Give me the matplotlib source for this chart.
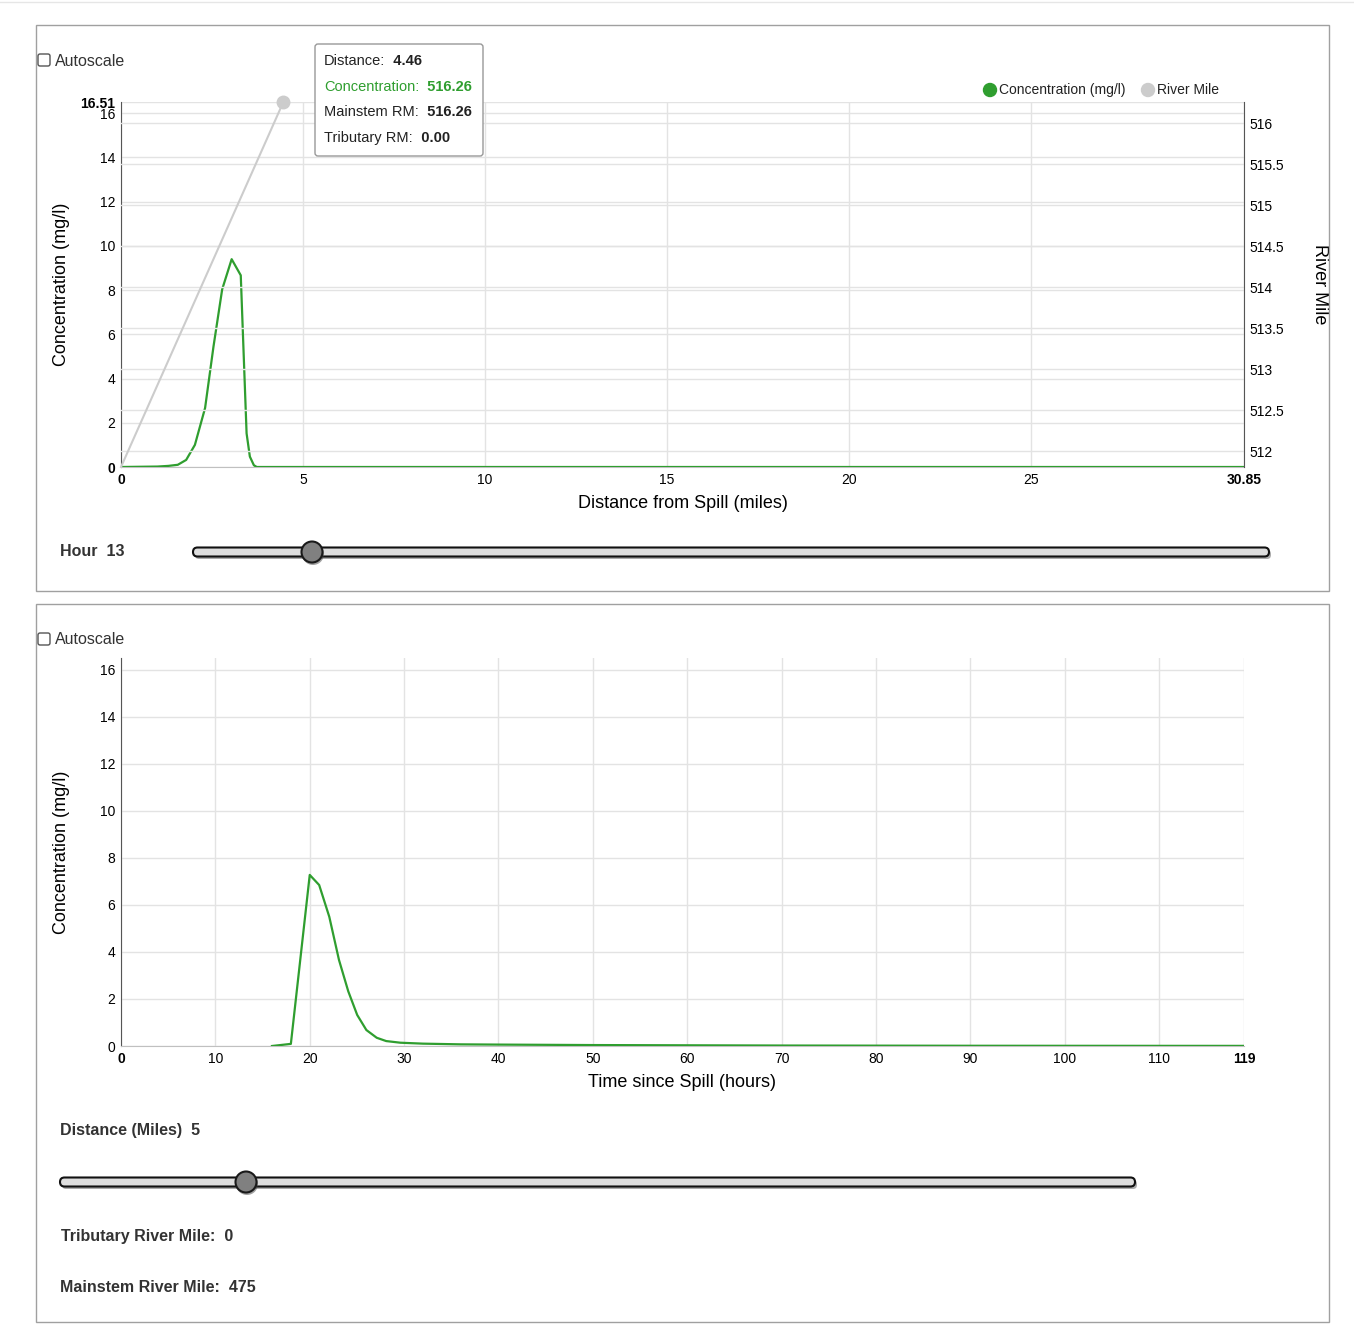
import numpy as np
import matplotlib
matplotlib.use('Agg')
import matplotlib.pyplot as plt
from matplotlib.patches import Rectangle, FancyBboxPatch, Circle

plt.rcParams['font.family'] = ['Liberation Sans', 'DejaVu Sans']

# top chart: concentration along the river at hour 13
dist = [0, 0.5, 1.0, 1.3, 1.56, 1.79, 2.03, 2.31, 2.54, 2.78, 3.04, 3.29, 3.45, 3.54, 3.65, 3.73, 4.0, 10, 20, 30.85]
conc_dist = [0, 0.01, 0.02, 0.05, 0.1, 0.32, 1.0, 2.67, 5.44, 8.04, 9.4, 8.67, 1.52, 0.47, 0.08, 0.0, 0, 0, 0, 0]
rm_dist = [0, 4.46]
rm_val = [511.81, 516.26]

# bottom chart: concentration at 5 miles over time
hours = [16, 18, 20, 21, 22.07, 23.1, 24.08, 25.03, 26, 27.1, 28.1, 29.6, 32, 36, 40, 50, 60, 70, 90, 119]
conc_time = [0, 0.09, 7.28, 6.85, 5.5, 3.66, 2.33, 1.32, 0.68, 0.35, 0.21, 0.14, 0.1, 0.07, 0.06, 0.04, 0.03, 0.02, 0.01, 0.005]

x_ticks_top = [0, 5, 10, 15, 20, 25, 30.85]
x_ticks_bot = [0, 10, 20, 30, 40, 50, 60, 70, 80, 90, 100, 110, 119]
y_ticks = [0, 2, 4, 6, 8, 10, 12, 14, 16]
rm_ticks = [512, 512.5, 513, 513.5, 514, 514.5, 515, 515.5, 516]

GREEN = '#2f9e2f'
GRID = '#e3e3e3'
W, H = 1354, 1331

fig = plt.figure(figsize=(W / 100, H / 100), dpi=100)


def fx(px):
    return px / W


def fy(py):
    return 1 - py / H


def style_axes(ax, xmax, ymax, xticks, bold_top):
    ax.set_xlim(0, xmax)
    ax.set_ylim(0, ymax)
    ax.set_xticks(xticks)
    lbls = ['%g' % t for t in xticks]
    ax.set_xticklabels(lbls, fontsize=10)
    ax.get_xticklabels()[0].set_fontweight('bold')
    ax.get_xticklabels()[-1].set_fontweight('bold')
    yt = list(y_ticks) + ([ymax] if bold_top else [])
    ax.set_yticks(yt)
    ax.set_yticklabels(['%g' % t for t in yt], fontsize=10)
    if bold_top:
        ax.get_yticklabels()[-1].set_fontweight('bold')
        ax.get_yticklabels()[0].set_fontweight('bold')
    ax.tick_params(length=0, pad=4)
    ax.grid(True, color=GRID, lw=1)
    ax.set_axisbelow(True)
    for s in ['top', 'right']:
        ax.spines[s].set_visible(False)
    ax.spines['left'].set_color('#555555')
    ax.spines['bottom'].set_color('#c0c0c0')
    ax.set_ylabel('Concentration (mg/l)', fontsize=13)
    ax.yaxis.set_label_coords((70 - 121) / 1123, 0.5)


# top chart
ax1 = fig.add_axes([fx(121), fy(467), fx(1244 - 121), (467 - 102) / H])
ax1.plot(dist, conc_dist, color=GREEN, lw=1.6, zorder=3)
style_axes(ax1, 30.85, 16.51, x_ticks_top, True)
ax1.set_xlabel('Distance from Spill (miles)', fontsize=13, labelpad=6)
ax1r = ax1.twinx()
ax1r.set_ylim(rm_val[0], rm_val[1])
ax1r.set_yticks(rm_ticks)
ax1r.set_yticklabels(['%g' % t for t in rm_ticks], fontsize=10)
ax1r.tick_params(length=0, pad=4)
ax1r.grid(True, color=GRID, lw=1)
for s in ['top', 'left', 'bottom']:
    ax1r.spines[s].set_visible(False)
ax1r.spines['right'].set_color('#555555')
ax1r.plot(rm_dist, rm_val, color='#cccccc', lw=1.5, clip_on=False)
ax1r.plot(rm_dist[-1:], rm_val[-1:], 'o', color='#cccccc', ms=9, clip_on=False)
ax1r.set_ylabel('River Mile', fontsize=13, rotation=-90, va='center')
ax1r.yaxis.set_label_coords((1319 - 121) / 1123, 0.5)

# bottom chart
ax2 = fig.add_axes([fx(121), fy(1046), fx(1244 - 121), (1046 - 658) / H])
ax2.plot(hours, conc_time, color=GREEN, lw=1.6, zorder=3)
style_axes(ax2, 119, 16.51, x_ticks_bot, False)
ax2.set_xlabel('Time since Spill (hours)', fontsize=13, labelpad=6)

# overlay for panels, controls, tooltip and legend
ov = fig.add_axes([0, 0, 1, 1], zorder=5)
ov.set_xlim(0, W)
ov.set_ylim(H, 0)
ov.axis('off')
ov.patch.set_alpha(0)

ov.plot([0, W], [2, 2], color='#e6e6e6', lw=1)
ov.add_patch(Rectangle((36, 25), 1293, 566, fill=False, ec='#a0a0a0', lw=1))
ov.add_patch(Rectangle((36, 604), 1293, 718, fill=False, ec='#a0a0a0', lw=1))

for cy in [60, 639]:
    ov.add_patch(FancyBboxPatch((38, cy - 6), 12, 12, boxstyle='round,pad=0,rounding_size=2',
                                fc='white', ec='#555555', lw=1))
    ov.text(55, cy + 1, 'Autoscale', fontsize=11.5, va='center', color='#333333')

# tooltip
ov.add_patch(FancyBboxPatch((315, 44), 168, 112, boxstyle='round,pad=0,rounding_size=3',
                            fc='white', ec='#999999', lw=1))
tip = [('Distance:', '4.46', '#222222'), ('Concentration:', '516.26', GREEN),
       ('Mainstem RM:', '516.26', '#222222'), ('Tributary RM:', '0.00', '#222222')]
for i, (k, v, c) in enumerate(tip):
    yy = 61 + i * 25.7
    t = ov.text(324, yy, k, fontsize=10.5, va='center', color=c)
    ov.annotate('  ' + v, xycoords=t, xy=(1, 0.5), va='center', fontsize=10.5,
                fontweight='bold', color=c)

# legend
ov.add_patch(Circle((990, 90), 6.5, color=GREEN))
ov.text(999, 90, 'Concentration (mg/l)', fontsize=10, va='center', color='#222222')
ov.add_patch(Circle((1148, 90), 6.5, color='#cccccc'))
ov.text(1157, 90, 'River Mile', fontsize=10, va='center', color='#222222')


def slider(x0, x1, y, knob):
    ov.add_patch(FancyBboxPatch((x0 + 2, y - 2), x1 - x0, 9, boxstyle='round,pad=0,rounding_size=4',
                                fc='#666666', ec='none', alpha=0.55))
    ov.add_patch(FancyBboxPatch((x0, y - 4.5), x1 - x0, 9, boxstyle='round,pad=0,rounding_size=4.5',
                                fc='#dedede', ec='#111111', lw=1.5))
    ov.add_patch(Circle((knob + 1, y + 2), 11, fc='#444444', ec='none', alpha=0.5))
    ov.add_patch(Circle((knob, y), 10.5, fc='#808080', ec='#1a1a1a', lw=1.5))


ov.text(60, 551, 'Hour  13', fontsize=11.5, fontweight='bold', va='center', color='#333333')
slider(193, 1269, 552, 312)
ov.text(60, 1130, 'Distance (Miles)  5', fontsize=11.5, fontweight='bold', va='center', color='#333333')
slider(60, 1135, 1182, 246)
ov.text(61, 1237, 'Tributary River Mile:  0', fontsize=11.5, fontweight='bold', va='center', color='#333333')
ov.text(60, 1287, 'Mainstem River Mile:  475', fontsize=11.5, fontweight='bold', va='center', color='#333333')

fig.savefig('out.png', dpi=100, facecolor='white')
